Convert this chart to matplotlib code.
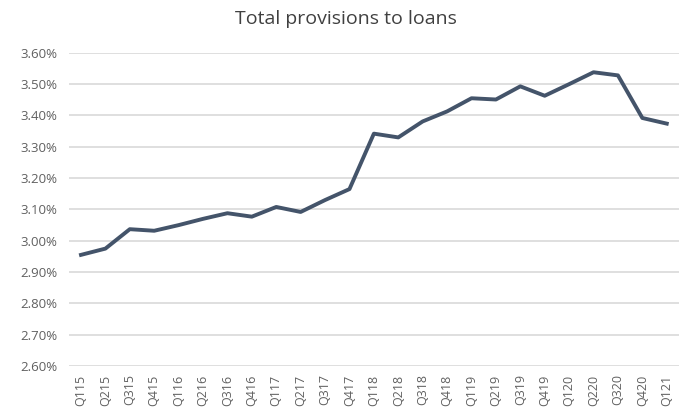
import matplotlib.pyplot as plt
from matplotlib.ticker import FuncFormatter

plt.rcParams['font.family'] = ['Open Sans', 'DejaVu Sans']

# Quarterly data
quarters = ['Q115', 'Q215', 'Q315', 'Q415', 'Q116', 'Q216', 'Q316', 'Q416',
            'Q117', 'Q217', 'Q317', 'Q417', 'Q118', 'Q218', 'Q318', 'Q418',
            'Q119', 'Q219', 'Q319', 'Q419', 'Q120', 'Q220', 'Q320', 'Q420', 'Q121']
provisions_pct = [2.955, 2.975, 3.037, 3.032, 3.05, 3.07, 3.088, 3.077,
                  3.108, 3.092, 3.13, 3.165, 3.342, 3.330, 3.381, 3.413,
                  3.455, 3.451, 3.493, 3.463, 3.500, 3.538, 3.528, 3.392, 3.374]

fig = plt.figure(figsize=(6.81, 4.16), dpi=100)
ax = fig.add_axes([0.101, 0.12, 0.896, 0.753])

ax.plot(range(len(quarters)), provisions_pct, color='#44546A', linewidth=2.8,
        solid_joinstyle='round', zorder=3)

ax.set_xlim(-0.5, len(quarters) - 0.5)
ax.set_ylim(2.6, 3.6)
ax.set_yticks([2.6 + 0.1 * i for i in range(11)])
ax.yaxis.set_major_formatter(FuncFormatter(lambda v, p: f'{v:.2f}%'))
ax.set_xticks(range(len(quarters)))
ax.set_xticklabels(quarters, rotation=90)

ax.grid(axis='y', color='#D9D9D9', linewidth=1.2)
ax.set_axisbelow(True)
for s in ax.spines.values():
    s.set_visible(False)
ax.tick_params(length=0, colors='#606060', labelsize=9)
ax.tick_params(axis='y', pad=8, labelsize=9.5)
ax.tick_params(axis='x', pad=6)

fig.suptitle('Total provisions to loans', x=0.508, y=0.975, fontsize=14, color='#404040')

fig.savefig('out.png', dpi=100)
